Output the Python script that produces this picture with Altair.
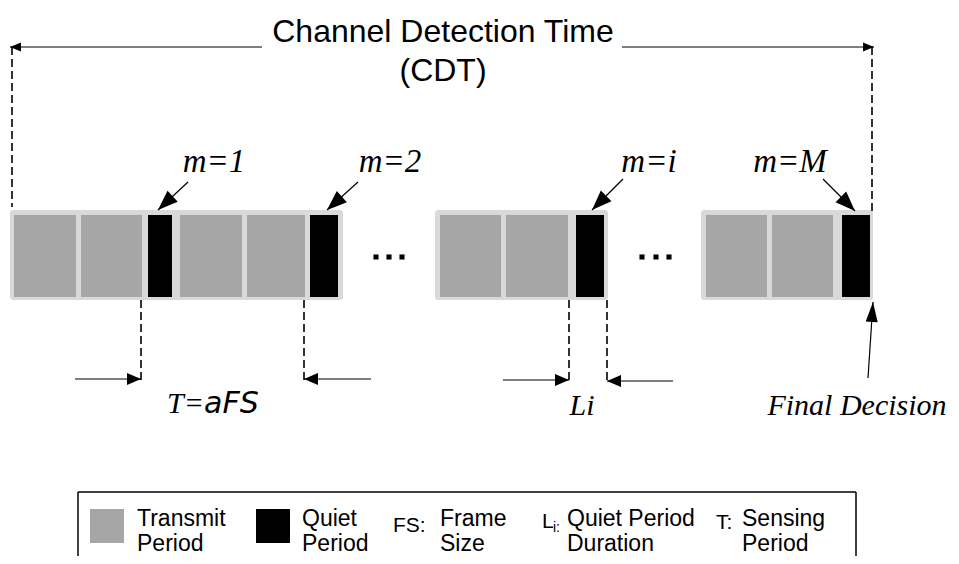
import math
import altair as alt
import pandas as pd

# ---------------- data (diagram layout, in reference pixel units) ----------------
group_x0 = [10, 435, 701]
group_x1 = [343, 608, 873]
group_top, group_bot = 210, 300

transmit_x0 = [14, 81, 180, 247, 440, 506, 706, 772]
transmit_x1 = [76, 142, 242, 305, 501, 568, 767, 833]
quiet_x0 = [148, 310, 576, 842]
quiet_x1 = [172, 338, 604, 870]
cell_top, cell_bot = 215, 297

dot_x = [376, 389, 402, 642, 656, 669]
dot_y = [257, 257, 257, 257, 257, 257]

dash_x = [12, 872, 141, 304, 569, 607]
dash_y0 = [47, 47, 300, 300, 300, 300]
dash_y1 = [207, 212, 380, 380, 381, 381]

# arrows: tail -> tip, head length, head half-width
arrow_tail_x = [262, 622, 75, 371, 503, 673, 188, 358, 623, 823, 868]
arrow_tail_y = [47, 47, 379, 379, 380, 381, 182, 182, 179, 179, 378]
arrow_tip_x = [10, 874, 141, 304, 569, 607, 158, 327, 592, 855, 873]
arrow_tip_y = [47, 47, 379, 379, 380, 381, 210, 210, 210, 211, 302]
head_len = [11, 11, 14, 14, 14, 14, 20, 20, 20, 20, 20]
head_half = [4.5, 4.5, 6, 6, 6, 6, 7.5, 7.5, 7.5, 7.5, 6]

title_text = ["Channel Detection Time", "(CDT)"]
title_x = [443, 443]
title_y = [42, 81]

m_text = ["m=1", "m=2", "m=i", "m=M"]
m_x = [214, 390, 649, 790]
m_y = [172, 172, 172, 172]

serif_text = ["Li", "Final Decision"]
serif_x = [582, 857]
serif_y = [415, 415]

legend_box = dict(x0=78, x1=856, y0=492, y1=556)
swatch_x0 = [90, 256]
swatch_x1 = [124, 290]
swatch_kind = ["transmit", "quiet"]
swatch_top, swatch_bot = 509, 543
legend_text = ["Transmit", "Period", "Quiet", "Period", "Frame", "Size",
               "Quiet Period", "Duration", "Sensing", "Period"]
legend_x = [137, 137, 302, 302, 440, 440, 567, 567, 742, 742]
legend_y = [526, 551, 526, 551, 526, 551, 526, 551, 526, 551]
key_text = ["FS:", "L", "T:"]
key_x = [393, 542, 716]
key_y = [532, 528, 529]

# ---------------- chart ----------------
W, H = 943, 548
X0, Y0 = 8, 8
xs = alt.Scale(domain=[X0, X0 + W], nice=False, zero=False)
ys = alt.Scale(domain=[Y0, Y0 + H], nice=False, zero=False, reverse=True)


def X(f="x"):
    return alt.X(f"{f}:Q", scale=xs, axis=None)


def Y(f="y"):
    return alt.Y(f"{f}:Q", scale=ys, axis=None, stack=None)


kind_color = alt.Color("kind:N", scale=alt.Scale(domain=["transmit", "quiet"],
                                                 range=["#a6a6a6", "#000000"]), legend=None)

groups = pd.DataFrame({"x": group_x0, "x2": group_x1,
                       "y": [group_top] * 3, "y2": [group_bot] * 3})
n_cells = len(transmit_x0) + len(quiet_x0)
cells = pd.DataFrame({
    "x": transmit_x0 + quiet_x0,
    "x2": transmit_x1 + quiet_x1,
    "y": [cell_top] * n_cells,
    "y2": [cell_bot] * n_cells,
    "kind": ["transmit"] * len(transmit_x0) + ["quiet"] * len(quiet_x0),
})
swatches = pd.DataFrame({"x": swatch_x0, "x2": swatch_x1,
                         "y": [swatch_top] * 2, "y2": [swatch_bot] * 2, "kind": swatch_kind})

g_layer = alt.Chart(groups).mark_rect(color="#d9d9d9", cornerRadius=3).encode(
    x=X(), x2="x2", y=Y(), y2="y2")
c_layer = alt.Chart(cells).mark_rect().encode(x=X(), x2="x2", y=Y(), y2="y2", color=kind_color)
s_layer = alt.Chart(swatches).mark_rect().encode(x=X(), x2="x2", y=Y(), y2="y2", color=kind_color)

dots = pd.DataFrame({"x": dot_x, "y": dot_y})
d_layer = alt.Chart(dots).mark_square(size=26, color="black", opacity=1).encode(x=X(), y=Y())

dashes = pd.DataFrame({"x": dash_x, "y": dash_y0, "y2": dash_y1})
dash_layer = alt.Chart(dashes).mark_rule(color="black", strokeWidth=1.6, strokeDash=[8, 4]).encode(
    x=X(), y=Y(), y2="y2")

# arrow shafts
shafts = pd.DataFrame({"x": arrow_tail_x, "y": arrow_tail_y, "x2": arrow_tip_x, "y2": arrow_tip_y})
shaft_layer = alt.Chart(shafts).mark_rule(color="black", strokeWidth=1.2).encode(
    x=X(), y=Y(), x2="x2", y2="y2")


# arrow heads: each triangle drawn as an area through its vertical slices
def head_rows():
    rows = []
    for g, (tx, ty, px, py, L, hw) in enumerate(zip(arrow_tail_x, arrow_tail_y, arrow_tip_x,
                                                   arrow_tip_y, head_len, head_half)):
        dx, dy = px - tx, py - ty
        d = math.hypot(dx, dy)
        ux, uy = dx / d, dy / d
        bx, by = px - ux * L, py - uy * L
        nx, ny = -uy, ux
        verts = [(px, py), (bx + nx * hw, by + ny * hw), (bx - nx * hw, by - ny * hw)]
        edges = [(verts[0], verts[1]), (verts[1], verts[2]), (verts[2], verts[0])]
        xs_ = sorted(set(round(v[0], 6) for v in verts))
        for xv in xs_:
            hits = []
            for (p, q) in edges:
                lo, hi = min(p[0], q[0]), max(p[0], q[0])
                if lo - 1e-6 <= xv <= hi + 1e-6:
                    if abs(q[0] - p[0]) < 1e-6:
                        hits += [p[1], q[1]]
                    else:
                        t = (xv - p[0]) / (q[0] - p[0])
                        hits.append(p[1] + t * (q[1] - p[1]))
            rows.append({"g": g, "x": xv, "y": min(hits), "y2": max(hits)})
    return pd.DataFrame(rows)


heads = head_rows()
head_layer = alt.Chart(heads).mark_area(color="black", opacity=1, orient="vertical",
                                        interpolate="linear").encode(
    x=X(), y=Y(), y2="y2", detail="g:N")

# legend box (open at the bottom, cut by the picture edge)
box = legend_box
box_lines = pd.DataFrame({
    "x": [box["x0"], box["x0"], box["x1"]],
    "x2": [box["x1"], box["x0"], box["x1"]],
    "y": [box["y0"], box["y0"], box["y0"]],
    "y2": [box["y0"], box["y1"], box["y1"]],
})
box_layer = alt.Chart(box_lines).mark_rule(color="black", strokeWidth=1.5).encode(
    x=X(), x2="x2", y=Y(), y2="y2")


def text_layer(texts, xs_, ys_, **kw):
    df = pd.DataFrame({"t": texts, "x": xs_, "y": ys_})
    return alt.Chart(df).mark_text(baseline="alphabetic", color="black", **kw).encode(
        x=X(), y=Y(), text="t:N")


t_title = text_layer(title_text, title_x, title_y, font="Liberation Sans", fontSize=32, align="center")
t_m = text_layer(m_text, m_x, m_y, font="Liberation Serif", fontStyle="italic", fontSize=33, align="center")
t_serif = text_layer(serif_text, serif_x, serif_y, font="Liberation Serif", fontStyle="italic",
                     fontSize=30, align="center")
t_T = text_layer(["T="], [204], [413], font="Liberation Serif", fontStyle="italic", fontSize=30, align="right")
t_aFS = text_layer(["aFS"], [204], [413], font="DejaVu Sans", fontStyle="oblique", fontSize=30, align="left")
t_leg = text_layer(legend_text, legend_x, legend_y, font="Liberation Sans", fontSize=23, align="left")
t_key = text_layer(key_text, key_x, key_y, font="Liberation Sans", fontSize=21, align="left")
t_sub = text_layer(["i:"], [553], [532], font="Liberation Sans", fontSize=14, align="left")

chart = alt.layer(
    g_layer, c_layer, d_layer, dash_layer, shaft_layer, head_layer,
    box_layer, s_layer,
    t_title, t_m, t_serif, t_T, t_aFS, t_leg, t_key, t_sub,
).properties(width=W, height=H, padding=0, autosize=alt.AutoSizeParams(type="none"),
             background="white").configure_view(stroke=None)

chart.save("out.html", embed_options={"renderer": "svg", "actions": False})
